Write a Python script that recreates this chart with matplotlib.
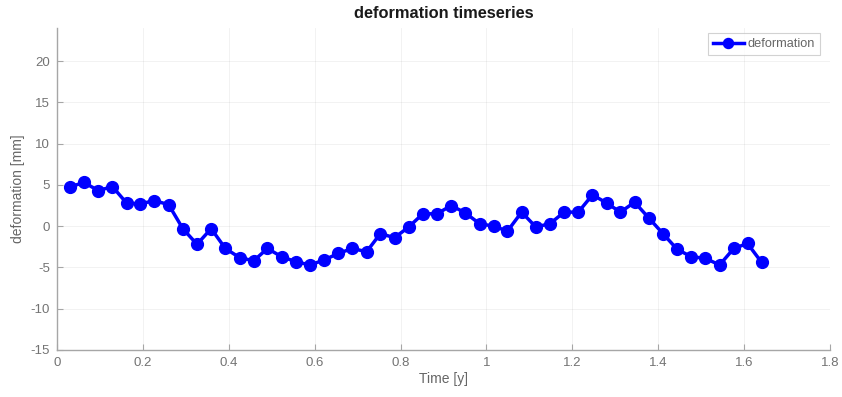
import matplotlib
matplotlib.use("Agg")
import matplotlib.pyplot as plt

plt.rcParams['font.family'] = ['Liberation Sans', 'DejaVu Sans']

time_y = [0.030, 0.063, 0.096, 0.129, 0.162, 0.194, 0.227, 0.260, 0.293, 0.326,
          0.359, 0.392, 0.425, 0.458, 0.490, 0.523, 0.556, 0.589, 0.622, 0.655,
          0.688, 0.721, 0.753, 0.786, 0.819, 0.852, 0.885, 0.918, 0.951, 0.984,
          1.017, 1.049, 1.082, 1.115, 1.148, 1.181, 1.214, 1.247, 1.280, 1.312,
          1.345, 1.378, 1.411, 1.444, 1.477, 1.510, 1.543, 1.576, 1.608, 1.641]
deformation = [4.75, 5.3, 4.3, 4.8, 2.8, 2.7, 3.1, 2.6, -0.3, -2.2,
               -0.3, -2.7, -3.8, -4.2, -2.7, -3.7, -4.3, -4.7, -4.1, -3.3,
               -2.7, -3.1, -0.9, -1.4, -0.1, 1.5, 1.5, 2.5, 1.6, 0.3,
               0.0, -0.6, 1.7, -0.1, 0.3, 1.7, 1.7, 3.8, 2.8, 1.7,
               2.9, 1.0, -0.9, -2.8, -3.7, -3.9, -4.7, -2.7, -2.1, -4.4]

xticks = [0, 0.2, 0.4, 0.6, 0.8, 1, 1.2, 1.4, 1.6, 1.8]
xtick_labels = ['0', '0.2', '0.4', '0.6', '0.8', '1', '1.2', '1.4', '1.6', '1.8']
yticks = [-15, -10, -5, 0, 5, 10, 15, 20]
ytick_labels = ['-15', '-10', '-5', '0', '5', '10', '15', '20']

fig = plt.figure(figsize=(8.42, 3.97), dpi=100)
ax = fig.add_axes([0.0677, 0.1184, 0.918, 0.811])

ax.plot(time_y, deformation, color=(0, 0, 1), linewidth=2.5, marker='o',
        markersize=8.5, markerfacecolor=(0, 0, 1), markeredgecolor=(0, 0, 1),
        label='deformation')

ax.set_xlim(0, 1.8)
ax.set_ylim(-15, 24)
ax.set_xticks(xticks)
ax.set_xticklabels(xtick_labels)
ax.set_yticks(yticks)
ax.set_yticklabels(ytick_labels)

ax.grid(True, color=(0.15, 0.15, 0.15), alpha=0.07, linewidth=0.6)
ax.set_axisbelow(True)
for s in ['top', 'right']:
    ax.spines[s].set_visible(False)
for s in ['left', 'bottom']:
    ax.spines[s].set_color((0.65, 0.65, 0.65))
    ax.spines[s].set_linewidth(1.0)
ax.tick_params(direction='in', length=4, colors=(0.65, 0.65, 0.65),
               labelcolor=(0.45, 0.45, 0.45), labelsize=9.5, pad=5)

ax.set_title('deformation timeseries', fontsize=11.8, fontweight='bold',
             color=(0.1, 0.1, 0.1), pad=7)
ax.set_xlabel('Time [y]', fontsize=10, color=(0.4, 0.4, 0.4), labelpad=2)
ax.set_ylabel('deformation [mm]', fontsize=10, color=(0.4, 0.4, 0.4), labelpad=4)

leg = ax.legend(loc='upper right', fontsize=9.2, frameon=True, fancybox=False,
                borderpad=0.4, handlelength=2.4, handletextpad=0.3,
                markerscale=0.85, borderaxespad=0.0,
                bbox_to_anchor=(0.987, 0.984))
leg.get_frame().set_edgecolor((0.78, 0.78, 0.78))
leg.get_frame().set_linewidth(0.8)
for t in leg.get_texts():
    t.set_color((0.4, 0.4, 0.4))

fig.savefig('out.png', dpi=100)
